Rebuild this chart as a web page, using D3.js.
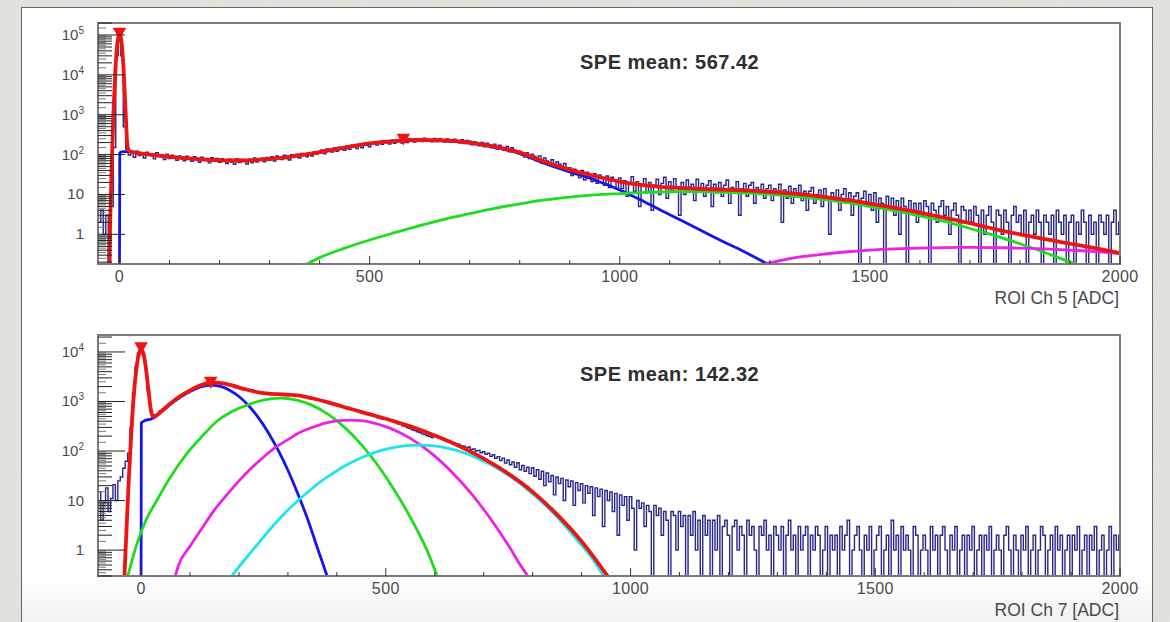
<!DOCTYPE html>
<html>
<head>
<meta charset="utf-8">
<script src="https://cdn.jsdelivr.net/npm/d3@7"></script>
<style>
    html, body { margin: 0; padding: 0; background: #e6e4df; }
    svg { display: block; }
    text { font-family: "Liberation Sans", Arial, Helvetica, sans-serif; }
</style>
</head>
<body>
<svg id="chart" width="1170" height="622"></svg>
<script>
//////////////////////   DATA    //////////////////////

var BIN = 5;

// ROI Ch 5 histogram, bin centres start at -40 ADC, one value per 5 ADC
var ch5Start = -40;
var ch5Counts = [
    2, 4, 1, 3, 0, 5, 150, 30000,
    100000, 30000, 500, 135, 98, 116, 86, 121, 94, 109, 82, 114, 97, 104, 78, 111, 93, 100, 75, 103,        // 0
    80, 97, 90, 72, 92, 79, 70, 91, 83, 68, 88, 72, 64, 86, 76, 80, 62, 84, 68, 80,                          // 100
    64, 79, 71, 60, 77, 65, 57, 79, 63, 75, 68, 58, 77, 62, 82, 65, 74, 81, 66, 85,                          // 200
    72, 88, 69, 92, 84, 75, 96, 80, 73, 99, 91, 103, 82, 107, 97, 88, 112, 92, 117, 103,                     // 300
    108, 130, 104, 138, 125, 116, 146, 121, 154, 140, 128, 163, 136, 171, 158, 141, 181, 149, 190, 172,      // 400
    157, 197, 205, 173, 212, 180, 221, 204, 185, 229, 192, 236, 221, 196, 243, 201, 248, 230, 206, 251,      // 500
    252, 212, 257, 234, 215, 210, 255, 212, 250, 227, 205, 248, 208, 203, 245, 219, 198, 238, 190, 226,      // 600
    218, 175, 211, 194, 166, 203, 157, 192, 174, 148, 183, 137, 171, 150, 128, 160, 118, 148, 129, 109,      // 700
    121, 100, 88, 112, 79, 103, 91, 70, 93, 61, 82, 69, 55, 74, 48, 66, 57, 43, 60, 38,                      // 800
    47, 30, 43, 37, 26, 40, 23, 36, 29, 21, 33, 19, 31, 25, 17, 29, 15, 27, 22, 14,                          // 900
    26, 14, 22, 9, 19, 28, 12, 21, 5, 18, 25, 11, 20, 4, 17, 24, 10, 19, 27, 8,                              // 1000
    21, 12, 25, 15, 3, 20, 10, 23, 13, 18, 7, 24, 12, 19, 9, 17, 22, 5, 18, 11,                              // 1100
    20, 9, 17, 23, 6, 15, 11, 21, 3, 14, 19, 9, 17, 20, 6, 15, 11, 18, 8, 14,                                // 1200
    17, 7, 14, 10, 18, 2, 13, 8, 16, 6, 14, 10, 17, 7, 12, 4, 12, 15, 6, 10,                                 // 1300
    13, 5, 14, 8, 1, 11, 7, 13, 4, 10, 14, 6, 11, 3, 9, 11, 0, 8, 12, 5,                                     // 1400
    10, 4, 11, 2, 8, 6, 0, 9, 5, 8, 3, 7, 1, 8, 5, 0, 7, 4, 6, 2,                                            // 1500
    6, 3, 7, 5, 0, 6, 4, 2, 5, 7, 3, 5, 1, 4, 6, 3, 0, 5, 4, 2,                                              // 1600
    4, 2, 5, 3, 0, 4, 1, 3, 5, 2, 0, 4, 3, 1, 4, 2, 0, 3, 5, 2,                                              // 1700
    3, 1, 4, 0, 2, 3, 1, 4, 2, 0, 3, 2, 1, 3, 0, 4, 2, 1, 3, 0,                                              // 1800
    2, 3, 0, 2, 1, 4, 2, 0, 3, 1, 2, 0, 3, 2, 1, 3, 0, 2, 4, 1,                                              // 1900
    2
];

// ROI Ch 7 histogram, bin centres start at -90 ADC
var ch7Start = -90;
var ch7Counts = [
    7, 15, 4, 9, 18, 6, 11, 21, 10, 25, 30, 45, 62, 90, 300, 1500, 5000, 9500,
    11000, 9000, 4500, 1650, 640, 470, 540, 570, 650, 700, 760, 820, 900, 960, 1050, 1120, 1230, 1310, 1420, 1500,  // 0
    1700, 1790, 1850, 1960, 2010, 2090, 2190, 2230, 2300, 2350, 2410, 2370, 2390, 2340, 2360, 2290, 2270, 2200, 2150, 2090, // 100
    1960, 1890, 1860, 1780, 1730, 1680, 1640, 1570, 1530, 1500, 1460, 1440, 1450, 1410, 1400, 1420, 1390, 1380, 1400, 1360, // 200
    1380, 1350, 1340, 1320, 1330, 1290, 1270, 1240, 1220, 1180, 1150, 1110, 1100, 1060, 1040, 990, 980, 940, 920, 880,     // 300
    860, 830, 810, 780, 760, 730, 710, 690, 660, 640, 610, 590, 575, 545, 530, 505, 495, 470, 455, 435,      // 400
    450, 425, 410, 390, 375, 355, 345, 325, 312, 295, 285, 268, 258, 245, 236, 222, 215, 204, 196, 187,      // 500
    212, 200, 190, 183, 174, 168, 160, 153, 147, 141, 136, 128, 125, 117, 121, 108, 110, 100, 103, 92,       // 600
    97, 86, 90, 78, 84, 71, 77, 64, 72, 57, 66, 53, 60, 47, 58, 42, 51, 39, 47, 35,                          // 700
    46, 31, 42, 27, 39, 20, 36, 24, 32, 13, 30, 22, 28, 10, 26, 19, 25, 8, 23, 16,                           // 800
    22, 9, 20, 14, 19, 5, 18, 12, 17, 3, 16, 10, 15, 6, 14, 2, 13, 8, 12, 4,                                 // 900
    12, 7, 1, 10, 7, 9, 3, 8, 6, 0, 8, 5, 7, 2, 6, 4, 0, 6, 5, 1,                                            // 1000
    6, 3, 5, 0, 5, 2, 6, 1, 4, 0, 5, 2, 4, 0, 4, 1, 5, 0, 3, 4,                                              // 1100
    2, 0, 3, 4, 1, 3, 2, 0, 4, 2, 3, 1, 0, 3, 2, 4, 1, 2, 0, 3,                                              // 1200
    2, 1, 3, 0, 2, 4, 1, 2, 0, 3, 1, 2, 3, 0, 2, 1, 3, 2, 0, 1,                                              // 1300
    3, 0, 2, 1, 2, 0, 3, 1, 2, 4, 0, 1, 2, 3, 1, 0, 2, 1, 3, 0,                                              // 1400
    1, 2, 3, 0, 1, 2, 0, 4, 1, 2, 0, 3, 1, 2, 1, 0, 3, 2, 0, 1,                                              // 1500
    2, 1, 0, 3, 1, 2, 0, 2, 3, 1, 0, 2, 1, 3, 0, 1, 2, 0, 2, 1,                                              // 1600
    3, 0, 1, 2, 0, 2, 1, 3, 0, 1, 2, 1, 0, 2, 3, 1, 0, 2, 1, 0,                                              // 1700
    2, 1, 3, 0, 1, 2, 0, 1, 3, 2, 0, 1, 2, 0, 3, 1, 2, 0, 1, 2,                                              // 1800
    0, 2, 1, 3, 0, 1, 2, 0, 2, 1, 3, 0, 1, 2, 0, 1, 3, 0, 2, 1,                                              // 1900
    2
];

// fit curves, [ADC, counts]
var ch5Total = [[-21, 0.18], [-16, 37], [-12, 1220], [-8, 14900], [-4, 66700], [0, 110000],
    [4, 66700], [8, 14900], [12, 1340], [16, 160], [20, 122], [30, 113], [60, 100], [100, 88],
    [150, 78], [200, 72], [250, 71], [300, 78], [350, 92], [400, 115], [450, 150], [500, 190],
    [550, 218], [600, 232], [650, 226], [700, 200], [750, 158], [800, 112], [850, 66], [900, 42],
    [950, 29], [1000, 21], [1050, 17], [1100, 15], [1150, 14], [1200, 13.3], [1250, 12.6],
    [1300, 11.7], [1350, 10.5], [1400, 9], [1450, 7.4], [1500, 5.9], [1550, 4.6], [1600, 3.5],
    [1650, 2.6], [1700, 1.9], [1750, 1.35], [1800, 1.0], [1850, 0.76], [1900, 0.58],
    [1950, 0.45], [2000, 0.34]];
var ch5Spe1 = [[0, 0.18], [0.5, 110], [8, 118], [12, 118], [20, 120], [30, 112], [60, 100],
    [100, 88], [150, 78], [200, 72], [250, 71], [300, 78], [350, 92], [400, 115], [450, 150],
    [500, 189], [550, 216], [600, 229], [650, 222], [700, 195], [750, 152], [800, 106],
    [850, 60], [900, 37], [950, 23], [1000, 13], [1050, 6.5], [1100, 3.1], [1150, 1.5],
    [1200, 0.72], [1250, 0.36], [1295, 0.18]];
var ch5Spe2 = [[375, 0.18], [400, 0.26], [450, 0.45], [500, 0.72], [550, 1.1], [600, 1.65],
    [650, 2.4], [700, 3.3], [750, 4.5], [800, 5.8], [850, 7.3], [900, 8.6], [950, 9.7],
    [1000, 10.5], [1050, 11.3], [1100, 11.7], [1150, 11.8], [1200, 11.5], [1250, 10.9],
    [1300, 10.0], [1350, 8.9], [1400, 7.6], [1450, 6.3], [1500, 5.0], [1550, 3.9], [1600, 2.9],
    [1650, 2.1], [1700, 1.4], [1750, 0.93], [1800, 0.58], [1850, 0.35], [1900, 0.2], [1910, 0.18]];
var ch5Spe3 = [[1290, 0.18], [1320, 0.22], [1360, 0.27], [1400, 0.31], [1450, 0.36],
    [1500, 0.4], [1550, 0.43], [1600, 0.45], [1650, 0.465], [1700, 0.47], [1750, 0.465],
    [1800, 0.45], [1850, 0.43], [1900, 0.4], [1950, 0.37], [2000, 0.33]];

var ch7Total = [[-34, 0.3], [-30, 2.3], [-25, 28], [-20, 235], [-15, 1270], [-10, 4210],
    [-5, 8650], [0, 11400], [5, 9050], [10, 4630], [15, 1700], [20, 680], [25, 494], [30, 511],
    [40, 614], [60, 908], [80, 1280], [100, 1680], [120, 2090], [142, 2390], [160, 2370],
    [180, 2186], [200, 1905], [220, 1700], [240, 1530], [260, 1437], [280, 1405], [300, 1367],
    [320, 1323], [340, 1215], [360, 1097], [380, 971], [400, 854], [420, 746], [440, 658],
    [460, 577], [480, 510], [500, 448], [550, 315], [600, 206], [650, 126], [700, 70],
    [750, 35], [800, 15], [850, 5.2], [900, 1.5], [953, 0.3]];
var ch7Spe1 = [[0, 0.3], [0.5, 370], [10, 420], [20, 440], [40, 600], [60, 880], [80, 1230],
    [100, 1600], [120, 1950], [142, 2150], [160, 2040], [180, 1710], [200, 1260], [220, 820],
    [240, 467], [260, 235], [280, 104], [300, 41], [320, 13.9], [340, 4.3], [360, 1.13],
    [380, 0.27]];
var ch7Spe2 = [[-27, 0.3], [-10, 1.2], [10, 4], [32, 10], [60, 30], [93, 88], [125, 200],
    [155, 400], [185, 620], [217, 850], [250, 1070], [284, 1170], [318, 1070], [350, 835],
    [384, 535], [418, 287], [450, 135], [484, 51], [518, 16], [550, 4.6], [584, 1.0], [605, 0.3]];
var ch7Spe3 = [[70, 0.3], [76, 0.48], [100, 1.2], [126, 2.9], [150, 6.5], [176, 13.3],
    [200, 25], [226, 46], [250, 75], [276, 121], [300, 170], [326, 242], [350, 300], [376, 366],
    [400, 405], [426, 420], [450, 410], [476, 366], [500, 310], [526, 242], [550, 180],
    [576, 121], [600, 79], [626, 46], [650, 26], [676, 13.3], [700, 6.6], [726, 2.9],
    [750, 1.27], [776, 0.48], [790, 0.3]];
var ch7Spe4 = [[185, 0.3], [218, 0.76], [243, 1.5], [268, 2.96], [293, 5.5], [318, 9.5],
    [343, 15.5], [368, 24.6], [393, 36], [418, 51], [443, 68], [468, 86], [493, 104],
    [518, 119], [543, 128], [568, 132], [593, 128], [618, 119], [643, 104], [668, 86],
    [693, 67], [718, 51], [743, 36], [768, 24.6], [793, 15.5], [818, 9.5], [843, 5.5],
    [868, 2.96], [893, 1.5], [918, 0.76], [945, 0.3]];

// found peaks (red markers)
var ch5Peaks = [[0, 115000], [567.42, 250]];
var ch7Peaks = [[0, 12500], [142.32, 2500]];

var xTickValues = [0, 500, 1000, 1500, 2000];

//////////////////////   LAYOUT    //////////////////////

var CONFIG = {
    frameLeft: 98,
    frameRight: 1120,
    frameHeight: 241,
    histColor: '#11117e',
    fitColors: ['#1414ee', '#1fdc1f', '#ee1fe6', '#1fe4ee'],
    totalColor: '#ee1414'
};

var panels = [
    {
        id: 'ch5', top: 23, xMin: -43, yMin: 0.18, yMax: 2e5,
        counts: ch5Counts, start: ch5Start,
        comps: [ch5Spe1, ch5Spe2, ch5Spe3], total: ch5Total, peaks: ch5Peaks,
        mean: 'SPE mean: 567.42', title: 'ROI Ch 5 [ADC]'
    },
    {
        id: 'ch7', top: 335, xMin: -88, yMin: 0.3, yMax: 2.2e4,
        counts: ch7Counts, start: ch7Start,
        comps: [ch7Spe1, ch7Spe2, ch7Spe3, ch7Spe4], total: ch7Total, peaks: ch7Peaks,
        mean: 'SPE mean: 142.32', title: 'ROI Ch 7 [ADC]'
    }
];

var svg = d3.select('#chart');
var defs = svg.append('defs');

// paper-ish backdrop
var paper = defs.append('filter').attr('id', 'paper')
    .attr('x', 0).attr('y', 0).attr('width', '100%').attr('height', '100%');
paper.append('feTurbulence').attr('type', 'fractalNoise')
    .attr('baseFrequency', 0.7).attr('numOctaves', 3).attr('seed', 4);
paper.append('feColorMatrix').attr('type', 'saturate').attr('values', 0);

svg.append('rect').attr('width', 1170).attr('height', 622).attr('fill', '#e6e4df');
svg.append('rect').attr('width', 1170).attr('height', 622)
    .attr('filter', 'url(#paper)').attr('opacity', 0.13);

var cardGrad = defs.append('linearGradient').attr('id', 'cardGrad')
    .attr('x1', 0).attr('y1', 0).attr('x2', 0).attr('y2', 1);
cardGrad.append('stop').attr('offset', 0.9).attr('stop-color', '#ffffff');
cardGrad.append('stop').attr('offset', 1).attr('stop-color', '#ececec');

svg.append('rect')
    .attr('x', 21.5).attr('y', 7.5).attr('width', 1131).attr('height', 630)
    .attr('fill', 'url(#cardGrad)')
    .attr('stroke', '#666').attr('stroke-width', 1);

panels.forEach(drawPanel);

function drawPanel(p) {
    var top = p.top, bottom = p.top + CONFIG.frameHeight;
    var left = CONFIG.frameLeft, right = CONFIG.frameRight;

    var x = d3.scaleLinear().domain([p.xMin, 2000]).range([left, right]);
    var y = d3.scaleLog().domain([p.yMin, p.yMax]).range([bottom, top]);
    var yv = function (v) {
        return y(Math.min(Math.max(v, p.yMin), p.yMax * 10));
    };

    var g = svg.append('g').attr('id', p.id);

    defs.append('clipPath').attr('id', 'clip-' + p.id)
        .append('rect')
        .attr('x', left).attr('y', top)
        .attr('width', right - left).attr('height', bottom - top);

    var plot = g.append('g').attr('clip-path', 'url(#clip-' + p.id + ')');

    // histogram drawn as steps, the ROOT way
    var steps = [];
    p.counts.forEach(function (v, i) {
        var c = p.start + i * BIN;
        steps.push([c - BIN / 2, v], [c + BIN / 2, v]);
    });
    var stepLine = d3.line()
        .x(function (d) { return x(d[0]); })
        .y(function (d) { return yv(d[1]); });

    plot.append('path')
        .attr('d', stepLine(steps))
        .attr('fill', 'none')
        .attr('stroke', CONFIG.histColor)
        .attr('stroke-width', 1.4)
        .attr('stroke-opacity', 0.9);

    var fitLine = d3.line()
        .curve(d3.curveMonotoneX)
        .x(function (d) { return x(d[0]); })
        .y(function (d) { return yv(d[1]); });

    p.comps.forEach(function (c, i) {
        plot.append('path')
            .attr('d', fitLine(c))
            .attr('fill', 'none')
            .attr('stroke', CONFIG.fitColors[i])
            .attr('stroke-width', 2.8)
            .attr('stroke-linejoin', 'round');
    });

    plot.append('path')
        .attr('d', fitLine(p.total))
        .attr('fill', 'none')
        .attr('stroke', CONFIG.totalColor)
        .attr('stroke-width', 3.8)
        .attr('stroke-linejoin', 'round');

    g.selectAll('path.peak')
        .data(p.peaks)
        .enter()
        .append('path')
        .attr('class', 'peak')
        .attr('d', d3.symbol(d3.symbolTriangle, 80))
        .attr('transform', function (d) {
            return 'translate(' + x(d[0]) + ',' + (yv(d[1]) - 1) + ') rotate(180)';
        })
        .attr('fill', CONFIG.totalColor);

    // frame
    g.append('rect')
        .attr('x', left).attr('y', top)
        .attr('width', right - left).attr('height', bottom - top)
        .attr('fill', 'none')
        .attr('stroke', '#7a7a7a')
        .attr('stroke-width', 2);

    // y axis ticks: decades long, 2..9 medium, halves short
    var yTicks = [];
    var e0 = Math.floor(Math.log10(p.yMin)), e1 = Math.ceil(Math.log10(p.yMax));
    for (var e = e0; e <= e1; ++e) {
        for (var m = 1; m < 10; m += 0.5) {
            var v = m * Math.pow(10, e);
            if (v < p.yMin || v > p.yMax) continue;
            yTicks.push({v: v, len: m === 1 ? 27 : (m % 1 === 0 ? 14 : 8)});
        }
    }
    g.selectAll('line.ytick')
        .data(yTicks)
        .enter()
        .append('line')
        .attr('class', 'ytick')
        .attr('x1', left).attr('x2', function (d) { return left + d.len; })
        .attr('y1', function (d) { return y(d.v); })
        .attr('y2', function (d) { return y(d.v); })
        .attr('stroke', function (d) { return d.len === 8 ? '#777' : '#222'; })
        .attr('stroke-width', 1);

    var decades = d3.range(Math.max(e0, 0), e1 + 1).filter(function (k) {
        return Math.pow(10, k) <= p.yMax;
    });
    var yLabels = g.selectAll('text.ylab')
        .data(decades)
        .enter()
        .append('text')
        .attr('class', 'ylab')
        .attr('x', 84)
        .attr('y', function (k) { return y(Math.pow(10, k)) + 5; })
        .attr('text-anchor', 'end')
        .attr('fill', '#4a4a4a')
        .style('font-size', '15px');
    yLabels.each(function (k) {
        var t = d3.select(this);
        if (k === 0) {
            t.text('1');
        } else if (k === 1) {
            t.text('10');
        } else {
            t.append('tspan').text('10');
            t.append('tspan').attr('dy', -6).style('font-size', '10px').text('' + k);
        }
    });

    // x axis ticks
    var xTicks = d3.range(0, 2001, 100);
    g.selectAll('line.xtick')
        .data(xTicks)
        .enter()
        .append('line')
        .attr('class', 'xtick')
        .attr('x1', function (d) { return x(d); })
        .attr('x2', function (d) { return x(d); })
        .attr('y1', bottom)
        .attr('y2', function (d) { return bottom - (d % 500 === 0 ? 8 : 4); })
        .attr('stroke', '#333')
        .attr('stroke-width', 1);

    g.selectAll('text.xlab')
        .data(xTickValues)
        .enter()
        .append('text')
        .attr('class', 'xlab')
        .attr('x', function (d) { return x(d); })
        .attr('y', bottom + 18)
        .attr('text-anchor', 'middle')
        .attr('fill', '#4a4a4a')
        .style('font-size', '16px')
        .style('letter-spacing', '0.4px')
        .text(function (d) { return '' + d; });

    g.append('text')
        .attr('x', right - 1)
        .attr('y', bottom + 40)
        .attr('text-anchor', 'end')
        .attr('fill', '#4a4a4a')
        .style('font-size', '17.5px')
        .text(p.title);

    g.append('text')
        .attr('x', 580)
        .attr('y', top + 46)
        .attr('fill', '#2e2e2e')
        .style('font-size', '20px')
        .style('font-weight', 'bold')
        .style('letter-spacing', '0.5px')
        .text(p.mean);
}
</script>
</body>
</html>
